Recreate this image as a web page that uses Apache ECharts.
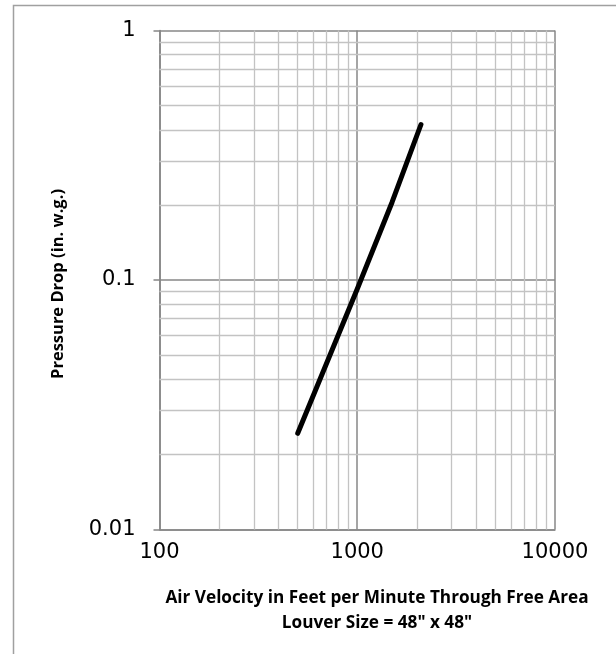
<!DOCTYPE html>
<html>
<head>
<meta charset="utf-8">
<script src="https://cdn.jsdelivr.net/npm/echarts@6/dist/echarts.min.js"></script>
<style>html,body{margin:0;padding:0;background:#fff;}#c{width:616px;height:654px;}</style>
</head>
<body>
<div id="c"></div>
<script>
// Data
var velocity = [500, 1000, 1500, 2100];
var pressureDrop = [0.0243, 0.092, 0.205, 0.420];
var xMinorGrid = [200, 300, 400, 500, 600, 700, 800, 900, 2000, 3000, 4000, 5000, 6000, 7000, 8000, 9000];
var yMinorGrid = [0.02, 0.03, 0.04, 0.05, 0.06, 0.07, 0.08, 0.09, 0.2, 0.3, 0.4, 0.5, 0.6, 0.7, 0.8, 0.9];
var xTickLabels = {100: '100', 1000: '1000', 10000: '10000'};
var yTickLabels = {0.01: '0.01', 0.1: '0.1', 1: '1'};
var xTitle = 'Air Velocity in Feet per Minute Through Free Area';
var xSubTitle = 'Louver Size = 48" x 48"';
var yTitle = 'Pressure Drop (in. w.g.)';

var chart = echarts.init(document.getElementById('c'), null, {renderer: 'canvas'});
var minorStyle = {color: '#c3c3c3', width: 1.3, type: 'solid'};
var markData = [];
xMinorGrid.forEach(function (v) { markData.push({xAxis: v}); });
yMinorGrid.forEach(function (v) { markData.push({yAxis: v}); });

function fmt(map, v) {
  for (var k in map) { if (Math.abs(Math.log10(+k) - Math.log10(v)) < 1e-6) return map[k]; }
  return '';
}

chart.setOption({
  animation: false,
  backgroundColor: '#fff',
  grid: {left: 159.5, right: 61, top: 30.5, bottom: 124.5, containLabel: false},
  xAxis: {
    type: 'log', logBase: 10, min: 100, max: 10000,
    axisLine: {show: true, onZero: false, lineStyle: {color: '#868686', width: 1.5}},
    axisTick: {show: false},
    splitLine: {show: true, lineStyle: {color: '#878787', width: 1.5}},
    axisLabel: {
      margin: 13, fontFamily: 'DejaVu Sans', fontSize: 21, color: '#000',
      formatter: function (v) { return fmt(xTickLabels, v); }
    }
  },
  yAxis: {
    type: 'log', logBase: 10, min: 0.01, max: 1,
    axisLine: {show: true, onZero: false, lineStyle: {color: '#868686', width: 1.5}},
    axisTick: {show: true, inside: false, length: 6, lineStyle: {color: '#868686', width: 1.5}},
    splitLine: {show: true, lineStyle: {color: '#878787', width: 1.5}},
    axisLabel: {
      margin: 24, fontFamily: 'DejaVu Sans', fontSize: 21, color: '#000',
      formatter: function (v) { return fmt(yTickLabels, v); }
    }
  },
  series: [{
    type: 'line',
    data: velocity.map(function (v, i) { return [v, pressureDrop[i]]; }),
    symbol: 'none',
    lineStyle: {color: '#000', width: 5, cap: 'round', join: 'round'},
    z: 5,
    markLine: {
      silent: true, symbol: 'none', animation: false,
      label: {show: false},
      lineStyle: minorStyle,
      emphasis: {disabled: true},
      data: markData,
      z: 1
    }
  }],
  graphic: [
    {type: 'rect', silent: true, z: -10,
      shape: {x: 13.5, y: 5.5, width: 800, height: 800},
      style: {fill: 'none', stroke: '#a0a0a0', lineWidth: 1.5}},
    {type: 'text', silent: true, x: 377, y: 598,
      style: {text: xTitle, fontFamily: 'Open Sans', fontWeight: 'bold', fontSize: 17.2,
        fill: '#000', align: 'center', verticalAlign: 'middle'}},
    {type: 'text', silent: true, x: 377, y: 623,
      style: {text: xSubTitle, fontFamily: 'Open Sans', fontWeight: 'bold', fontSize: 17.2,
        fill: '#000', align: 'center', verticalAlign: 'middle'}},
    {type: 'text', silent: true, x: 58, y: 284, rotation: Math.PI / 2,
      style: {text: yTitle, fontFamily: 'Open Sans', fontWeight: 'bold', fontSize: 16.5,
        fill: '#000', align: 'center', verticalAlign: 'middle'}}
  ]
});
</script>
</body>
</html>
